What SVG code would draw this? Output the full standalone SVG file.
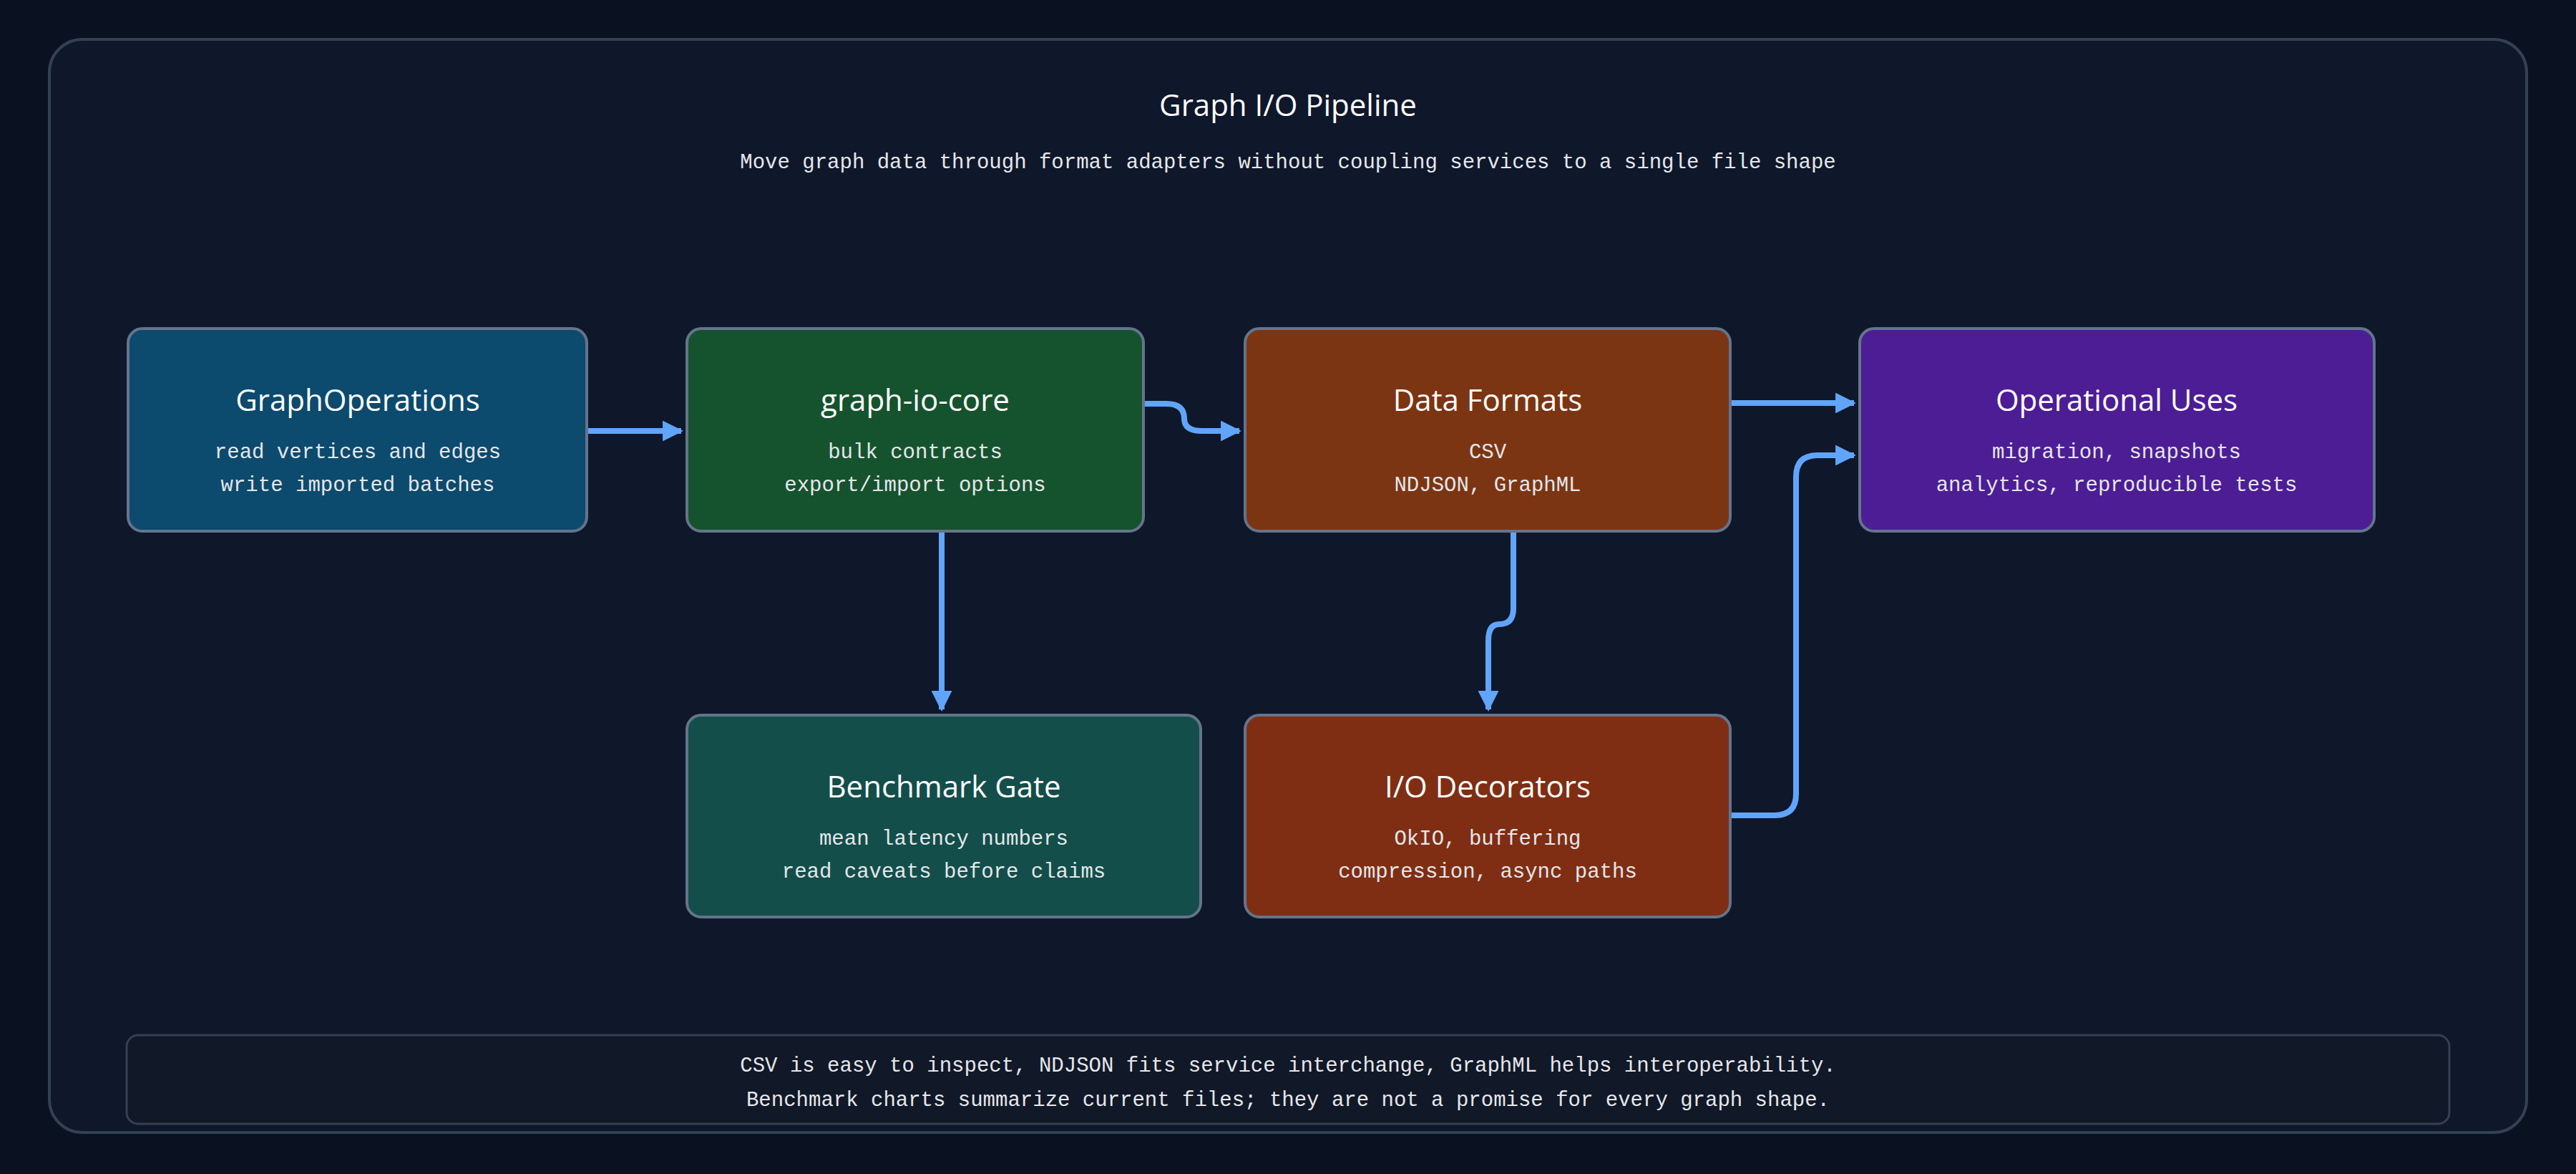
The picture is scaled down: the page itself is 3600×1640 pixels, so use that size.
<svg xmlns="http://www.w3.org/2000/svg" width="3600" height="1640" viewBox="0 0 3600 1640">
<defs>
<style>
.node{stroke:#64748b;stroke-width:4}
.t{font-family:"Open Sans","Liberation Sans",sans-serif;fill:#fff;text-anchor:middle;font-size:42px}
.b{font-family:"Liberation Mono","DejaVu Sans Mono",monospace;fill:#e5e7eb;text-anchor:middle;font-size:29px}
.c{fill:none;stroke:#60a5fa;stroke-width:8;marker-end:url(#ah)}
</style>
<marker id="ah" viewBox="0 0 10 10" refX="9" refY="5" markerWidth="3.6" markerHeight="3.6" orient="auto" markerUnits="strokeWidth"><path d="M0,0L10,5L0,10z" fill="#60a5fa"/></marker>
</defs>
<rect width="3600" height="1640" fill="#0a1120"/>
<rect x="69" y="55" width="3462" height="1527" rx="46" fill="#0f172a" stroke="#334155" stroke-width="4"/>
<text x="1800" y="162" class="t" font-size="74">Graph I/O Pipeline</text>
<text x="1800" y="235" class="b" font-size="31" fill="#cbd5e1">Move graph data through format adapters without coupling services to a single file shape</text>
<g id="connectors">
<path class="c" d="M820,602H952"/>
<path class="c" d="M1598,564H1630Q1655,564 1655,585V585Q1655,602 1680,602H1732"/>
<path class="c" d="M2418,563H2591"/>
<path class="c" d="M1316,742V991"/>
<path class="c" d="M2115,742V850Q2115,872 2095,872Q2080,872 2080,895V991"/>
<path class="c" d="M2418,1139H2480Q2510,1139 2510,1109V666Q2510,636 2540,636H2591"/>
</g>
<g id="graphops"><rect class="node" x="179" y="459" width="641" height="283" rx="20" fill="#0c4a6e"/>
<text class="t" x="500" y="574">GraphOperations</text><text class="b" x="500" y="640">read vertices and edges</text><text class="b" x="500" y="686">write imported batches</text></g>
<g id="core"><rect class="node" x="960" y="459" width="638" height="283" rx="20" fill="#15532e"/>
<text class="t" x="1279" y="574">graph-io-core</text><text class="b" x="1279" y="640">bulk contracts</text><text class="b" x="1279" y="686">export/import options</text></g>
<g id="formats"><rect class="node" x="1740" y="459" width="678" height="283" rx="20" fill="#7c3512"/>
<text class="t" x="2079" y="574">Data Formats</text><text class="b" x="2079" y="640">CSV</text><text class="b" x="2079" y="686">NDJSON, GraphML</text></g>
<g id="uses"><rect class="node" x="2599" y="459" width="719" height="283" rx="20" fill="#4c1d95"/>
<text class="t" x="2958" y="574">Operational Uses</text><text class="b" x="2958" y="640">migration, snapshots</text><text class="b" x="2958" y="686">analytics, reproducible tests</text></g>
<g id="bench"><rect class="node" x="960" y="999" width="718" height="282" rx="20" fill="#134e4a"/>
<text class="t" x="1319" y="1114">Benchmark Gate</text><text class="b" x="1319" y="1180">mean latency numbers</text><text class="b" x="1319" y="1226">read caveats before claims</text></g>
<g id="decorators"><rect class="node" x="1740" y="999" width="678" height="282" rx="20" fill="#7f2e14"/>
<text class="t" x="2079" y="1114">I/O Decorators</text><text class="b" x="2079" y="1180">OkIO, buffering</text><text class="b" x="2079" y="1226">compression, async paths</text></g>
<g id="footer"><rect x="177" y="1446" width="3246" height="124" rx="16" fill="#111827" stroke="#334155" stroke-width="3"/>
<text class="b" x="1800" y="1497" font-size="31" fill="#cbd5e1">CSV is easy to inspect, NDJSON fits service interchange, GraphML helps interoperability.</text>
<text class="b" x="1800" y="1545" font-size="31" fill="#cbd5e1">Benchmark charts summarize current files; they are not a promise for every graph shape.</text></g>
</svg>
